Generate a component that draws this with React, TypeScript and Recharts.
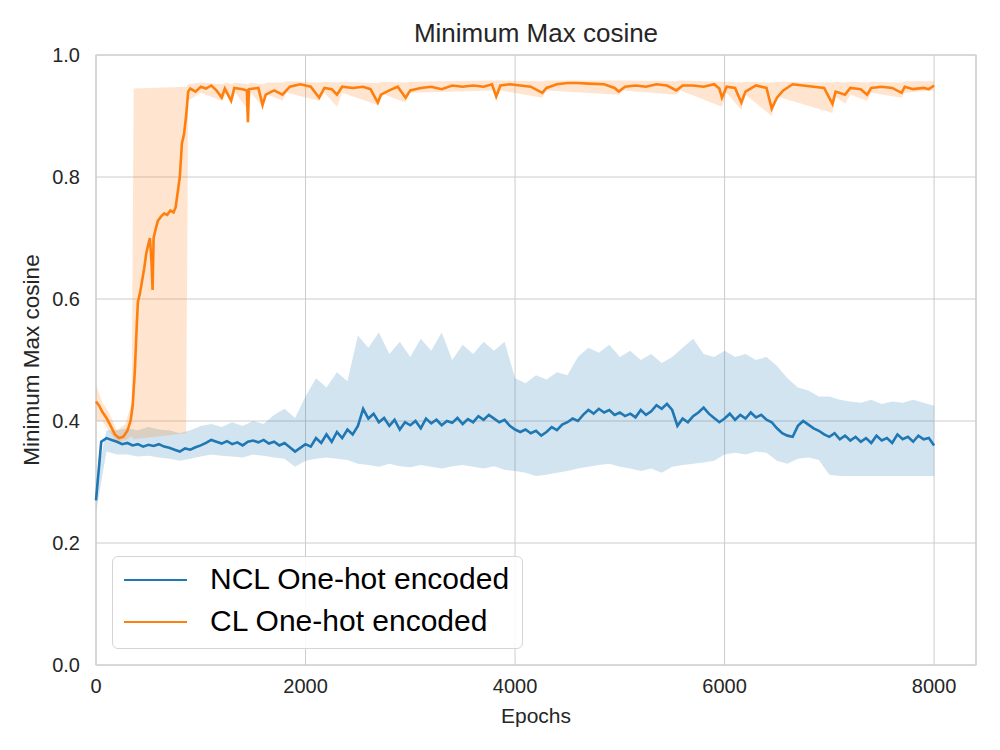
import React from "react";
import {
  ComposedChart,
  Line,
  Area,
  XAxis,
  YAxis,
  CartesianGrid,
  ReferenceArea,
} from "recharts";

// ---- NCL One-hot encoded (blue) ----
const NCL_EPOCHS = [
  0, 50, 100, 150, 200, 250, 300, 350, 400, 450, 500, 550, 600, 650, 700, 750, 800, 850, 900, 950,
  1000, 1050, 1100, 1150, 1200, 1250, 1300, 1350, 1400, 1450, 1500, 1550, 1600, 1650, 1700, 1750, 1800, 1850, 1900, 1950,
  2000, 2050, 2100, 2150, 2200, 2250, 2300, 2350, 2400, 2450, 2500, 2550, 2600, 2650, 2700, 2750, 2800, 2850, 2900, 2950,
  3000, 3050, 3100, 3150, 3200, 3250, 3300, 3350, 3400, 3450, 3500, 3550, 3600, 3650, 3700, 3750, 3800, 3850, 3900, 3950,
  4000, 4050, 4100, 4150, 4200, 4250, 4300, 4350, 4400, 4450, 4500, 4550, 4600, 4650, 4700, 4750, 4800, 4850, 4900, 4950,
  5000, 5050, 5100, 5150, 5200, 5250, 5300, 5350, 5400, 5450, 5500, 5550, 5600, 5650, 5700, 5750, 5800, 5850, 5900, 5950,
  6000, 6050, 6100, 6150, 6200, 6250, 6300, 6350, 6400, 6450, 6500, 6550, 6600, 6650, 6700, 6750, 6800, 6850, 6900, 6950,
  7000, 7050, 7100, 7150, 7200, 7250, 7300, 7350, 7400, 7450, 7500, 7550, 7600, 7650, 7700, 7750, 7800, 7850, 7900, 7950,
  8000,
];
const NCL_MEAN = [
  0.27, 0.366, 0.372, 0.369, 0.366, 0.362, 0.364, 0.36, 0.362, 0.358, 0.361, 0.359, 0.362, 0.358, 0.356, 0.353, 0.35, 0.355, 0.353, 0.357,
  0.36, 0.364, 0.369, 0.366, 0.363, 0.367, 0.362, 0.365, 0.36, 0.366, 0.368, 0.365, 0.369, 0.363, 0.366, 0.36, 0.364, 0.357, 0.35, 0.356,
  0.362, 0.358, 0.372, 0.364, 0.378, 0.366, 0.382, 0.372, 0.386, 0.378, 0.392, 0.42, 0.404, 0.412, 0.398, 0.405, 0.392, 0.402, 0.386, 0.398,
  0.393, 0.4, 0.388, 0.404, 0.396, 0.402, 0.393, 0.4, 0.397, 0.405, 0.395, 0.403, 0.398, 0.408, 0.402, 0.41, 0.404, 0.398, 0.402, 0.392,
  0.386, 0.382, 0.386, 0.38, 0.384, 0.376, 0.382, 0.39, 0.385, 0.394, 0.398, 0.404, 0.4, 0.41, 0.418, 0.412, 0.42, 0.414, 0.418, 0.41,
  0.414, 0.408, 0.412, 0.406, 0.418, 0.41, 0.416, 0.426, 0.42, 0.428, 0.418, 0.392, 0.404, 0.398, 0.408, 0.414, 0.422, 0.412, 0.405, 0.398,
  0.404, 0.412, 0.402, 0.41, 0.404, 0.414, 0.406, 0.41, 0.402, 0.398, 0.388, 0.38, 0.376, 0.374, 0.392, 0.4, 0.394, 0.388, 0.384, 0.378,
  0.374, 0.38, 0.37, 0.376, 0.368, 0.374, 0.366, 0.372, 0.364, 0.376, 0.368, 0.372, 0.364, 0.378, 0.37, 0.374, 0.366, 0.376, 0.37, 0.372,
  0.36,
];
const NCL_BAND_EPOCHS = [
  0, 100, 200, 300, 400, 500, 600, 700, 800, 900, 1000, 1100, 1200, 1300, 1400, 1500, 1600, 1700, 1800, 1900,
  2000, 2100, 2200, 2300, 2400, 2500, 2600, 2700, 2800, 2900, 3000, 3100, 3200, 3300, 3400, 3500, 3600, 3700, 3800, 3900,
  4000, 4100, 4200, 4300, 4400, 4500, 4600, 4700, 4800, 4900, 5000, 5100, 5200, 5300, 5400, 5500, 5600, 5700, 5800, 5900,
  6000, 6100, 6200, 6300, 6400, 6500, 6600, 6700, 6800, 6900, 7000, 7100, 7200, 7300, 7400, 7500, 7600, 7700, 7800, 7900,
  8000,
];
const NCL_LOW = [
  0.25, 0.35, 0.345, 0.345, 0.342, 0.343, 0.34, 0.338, 0.335, 0.338, 0.342, 0.345, 0.343, 0.342, 0.34, 0.345, 0.343, 0.34, 0.338, 0.325,
  0.335, 0.338, 0.34, 0.338, 0.336, 0.33, 0.328, 0.325, 0.33, 0.326, 0.324, 0.328, 0.325, 0.322, 0.326, 0.328, 0.325, 0.322, 0.326, 0.32,
  0.318, 0.315, 0.31, 0.312, 0.315, 0.318, 0.322, 0.325, 0.328, 0.33, 0.325, 0.322, 0.318, 0.322, 0.315, 0.325, 0.328, 0.33, 0.332, 0.335,
  0.345, 0.348, 0.345, 0.35, 0.348, 0.335, 0.33, 0.338, 0.34, 0.336, 0.312, 0.31, 0.31, 0.31, 0.31, 0.31, 0.31, 0.31, 0.31, 0.31,
  0.31,
];
const NCL_HIGH = [
  0.3, 0.385, 0.385, 0.388, 0.385, 0.39, 0.386, 0.385, 0.38, 0.385, 0.392, 0.395, 0.39, 0.398, 0.392, 0.4, 0.395, 0.41, 0.42, 0.405,
  0.44, 0.47, 0.455, 0.48, 0.465, 0.54, 0.52, 0.545, 0.51, 0.53, 0.505, 0.535, 0.515, 0.545, 0.5, 0.525, 0.51, 0.53, 0.515, 0.53,
  0.47, 0.462, 0.475, 0.468, 0.48, 0.475, 0.505, 0.52, 0.512, 0.525, 0.505, 0.515, 0.5, 0.51, 0.495, 0.505, 0.52, 0.535, 0.51, 0.505,
  0.515, 0.505, 0.51, 0.5, 0.505, 0.49, 0.47, 0.455, 0.45, 0.44, 0.44, 0.435, 0.432, 0.43, 0.435, 0.428, 0.432, 0.43, 0.435, 0.43,
  0.425,
];

// ---- CL One-hot encoded (orange) ----
const CL_EPOCHS = [
  0, 30, 60, 100, 140, 180, 220, 260, 300, 330, 350, 370, 390, 400, 420, 440, 460, 480, 500, 515,
  530, 540, 550, 570, 590, 620, 650, 680, 710, 740, 760, 780, 800, 820, 840, 860, 880, 900, 950, 1000,
  1050, 1100, 1150, 1200, 1230, 1290, 1320, 1400, 1440, 1450, 1460, 1550, 1590, 1620, 1700, 1780, 1850, 1950, 2050, 2130,
  2180, 2250, 2300, 2350, 2450, 2550, 2620, 2690, 2720, 2800, 2880, 2955, 3000, 3100, 3200, 3300, 3400, 3500, 3600, 3700,
  3780, 3820, 3860, 3950, 4050, 4150, 4260, 4300, 4400, 4500, 4600, 4700, 4850, 4950, 4990, 5050, 5150, 5250, 5350, 5450,
  5540, 5600, 5700, 5800, 5900, 5950, 5975, 6020, 6100, 6160, 6200, 6300, 6400, 6450, 6500, 6560, 6650, 6750, 6850, 6950,
  7030, 7060, 7150, 7200, 7300, 7360, 7400, 7500, 7600, 7690, 7720, 7800, 7900, 7950, 8000,
];
const CL_MEAN = [
  0.432, 0.425, 0.415, 0.405, 0.392, 0.378, 0.372, 0.374, 0.384, 0.4, 0.425, 0.48, 0.56, 0.595, 0.61, 0.63, 0.65, 0.675, 0.69, 0.7,
  0.66, 0.615, 0.7, 0.715, 0.728, 0.735, 0.74, 0.738, 0.745, 0.742, 0.75, 0.775, 0.8, 0.855, 0.87, 0.9, 0.94, 0.945, 0.94, 0.948,
  0.945, 0.95, 0.942, 0.93, 0.945, 0.925, 0.946, 0.944, 0.942, 0.89, 0.944, 0.946, 0.918, 0.935, 0.942, 0.935, 0.948, 0.952, 0.948, 0.93,
  0.946, 0.944, 0.935, 0.948, 0.946, 0.948, 0.944, 0.922, 0.935, 0.942, 0.948, 0.93, 0.942, 0.946, 0.948, 0.944, 0.95, 0.948, 0.95, 0.948,
  0.952, 0.932, 0.95, 0.952, 0.95, 0.948, 0.938, 0.946, 0.952, 0.954, 0.954, 0.953, 0.952, 0.946, 0.94, 0.948, 0.95, 0.948, 0.952, 0.95,
  0.942, 0.95, 0.95, 0.948, 0.952, 0.945, 0.93, 0.948, 0.946, 0.922, 0.94, 0.95, 0.946, 0.912, 0.93, 0.942, 0.952, 0.95, 0.948, 0.946,
  0.92, 0.94, 0.935, 0.946, 0.944, 0.935, 0.946, 0.948, 0.946, 0.938, 0.948, 0.944, 0.946, 0.944, 0.95,
];
const CL_BAND_EPOCHS = [
  0, 60, 120, 200, 280, 340, 360, 860, 880, 1000, 1200, 1250, 1290, 1330, 1450, 1480, 1590, 1640, 1780, 1820,
  2130, 2180, 2300, 2350, 2690, 2740, 2955, 3000, 3800, 3820, 3860, 4260, 4300, 4990, 5030, 5540, 5580, 5975, 6020, 6160,
  6200, 6450, 6500, 7030, 7060, 7150, 7200, 7360, 7400, 7690, 7720, 8000,
];
const CL_LOW = [
  0.4, 0.4, 0.385, 0.365, 0.368, 0.375, 0.37, 0.38, 0.925, 0.938, 0.925, 0.938, 0.92, 0.938, 0.91, 0.938, 0.915, 0.935, 0.925, 0.938,
  0.925, 0.938, 0.915, 0.938, 0.918, 0.936, 0.922, 0.938, 0.942, 0.925, 0.942, 0.93, 0.942, 0.935, 0.942, 0.935, 0.942, 0.915, 0.938, 0.91,
  0.935, 0.9, 0.932, 0.905, 0.932, 0.92, 0.935, 0.925, 0.938, 0.93, 0.938, 0.942,
];
const CL_HIGH = [
  0.46, 0.43, 0.415, 0.385, 0.395, 0.43, 0.945, 0.948, 0.952, 0.955, 0.952, 0.955, 0.952, 0.955, 0.952, 0.955, 0.952, 0.955, 0.955, 0.957,
  0.955, 0.956, 0.955, 0.956, 0.954, 0.956, 0.955, 0.956, 0.958, 0.958, 0.958, 0.957, 0.958, 0.958, 0.958, 0.957, 0.958, 0.956, 0.956, 0.955,
  0.956, 0.955, 0.956, 0.955, 0.956, 0.955, 0.956, 0.955, 0.956, 0.955, 0.957, 0.957,
];

const X_TICKS = [0, 2000, 4000, 6000, 8000];
const Y_TICKS = [0, 0.2, 0.4, 0.6, 0.8, 1.0];
const TITLE = "Minimum Max cosine";
const X_LABEL = "Epochs";
const Y_LABEL = "Minimum Max cosine";
const SERIES_NAMES = ["NCL One-hot encoded", "CL One-hot encoded"];

const BLUE = "#1f77b4";
const ORANGE = "#ff7f0e";
const TEXT = "#262626";
const GRID = "#cccccc";
const FONT = "'Liberation Sans', Arial, sans-serif";

const nclLine = NCL_EPOCHS.map((x, i) => ({ x, y: NCL_MEAN[i] }));
const nclBand = NCL_BAND_EPOCHS.map((x, i) => ({ x, r: [NCL_LOW[i], NCL_HIGH[i]] }));
const clLine = CL_EPOCHS.map((x, i) => ({ x, y: CL_MEAN[i] }));
const clBand = CL_BAND_EPOCHS.map((x, i) => ({ x, r: [CL_LOW[i], CL_HIGH[i]] }));

export default function App() {
  return (
    <div
      style={{
        position: "absolute",
        left: 0,
        top: 0,
        width: 1000,
        height: 750,
        background: "#fff",
        fontFamily: FONT,
      }}
    >
      <ComposedChart
        width={1000}
        height={750}
        margin={{ top: 55, right: 24, bottom: 15, left: 36 }}
      >
        <CartesianGrid stroke={GRID} strokeWidth={1} />
        <XAxis
          type="number"
          dataKey="x"
          domain={[0, 8400]}
          ticks={X_TICKS}
          allowDuplicatedCategory={false}
          axisLine={false}
          tickLine={false}
          tickMargin={8}
          height={70}
          tick={{ fill: TEXT, fontSize: 20, fontFamily: FONT }}
        />
        <YAxis
          type="number"
          domain={[0, 1]}
          ticks={Y_TICKS}
          axisLine={false}
          tickLine={false}
          tickMargin={10}
          width={60}
          tickFormatter={(v: number) => v.toFixed(1)}
          tick={{ fill: TEXT, fontSize: 20, fontFamily: FONT }}
        />
        <Area
          data={nclBand}
          dataKey="r"
          type="linear"
          stroke="none"
          fill={BLUE}
          fillOpacity={0.2}
          isAnimationActive={false}
          activeDot={false}
        />
        <Line
          data={nclLine}
          dataKey="y"
          type="linear"
          stroke={BLUE}
          strokeWidth={2.6}
          dot={false}
          activeDot={false}
          isAnimationActive={false}
        />
        <Area
          data={clBand}
          dataKey="r"
          type="linear"
          stroke="none"
          fill={ORANGE}
          fillOpacity={0.2}
          isAnimationActive={false}
          activeDot={false}
        />
        <Line
          data={clLine}
          dataKey="y"
          type="linear"
          stroke={ORANGE}
          strokeWidth={2.6}
          dot={false}
          activeDot={false}
          isAnimationActive={false}
        />
        <ReferenceArea
          x1={0}
          x2={8400}
          y1={0}
          y2={1}
          fill="none"
          stroke={GRID}
          strokeWidth={1.2}
          ifOverflow="visible"
        />
      </ComposedChart>

      {/* title */}
      <div
        style={{
          position: "absolute",
          left: 336,
          width: 400,
          top: 18,
          textAlign: "center",
          fontSize: 26,
          color: TEXT,
          lineHeight: "30px",
        }}
      >
        {TITLE}
      </div>
      {/* x label */}
      <div
        style={{
          position: "absolute",
          left: 436,
          width: 200,
          top: 704,
          textAlign: "center",
          fontSize: 21,
          color: TEXT,
          lineHeight: "24px",
        }}
      >
        {X_LABEL}
      </div>
      {/* y label */}
      <div
        style={{
          position: "absolute",
          left: 32 - 150,
          top: 360 - 13,
          width: 300,
          textAlign: "center",
          fontSize: 22.5,
          color: TEXT,
          lineHeight: "26px",
          transform: "rotate(-90deg)",
        }}
      >
        {Y_LABEL}
      </div>
      {/* legend */}
      <div
        style={{
          position: "absolute",
          left: 112,
          top: 556,
          width: 411,
          height: 93,
          boxSizing: "border-box",
          border: "1.2px solid #d5d5d5",
          borderRadius: 6,
          background: "rgba(255,255,255,0.85)",
        }}
      >
        {SERIES_NAMES.map((name, i) => (
          <div
            key={name}
            style={{
              position: "absolute",
              left: 0,
              top: 4 + i * 42,
              height: 40,
              width: 411,
            }}
          >
            <div
              style={{
                position: "absolute",
                left: 11,
                top: 18,
                width: 63,
                height: 0,
                borderTop: `2.5px solid ${i === 0 ? BLUE : ORANGE}`,
              }}
            />
            <div
              style={{
                position: "absolute",
                left: 97,
                top: 1,
                fontSize: 30,
                lineHeight: "34px",
                color: "#000",
                whiteSpace: "nowrap",
              }}
            >
              {name}
            </div>
          </div>
        ))}
      </div>
    </div>
  );
}
